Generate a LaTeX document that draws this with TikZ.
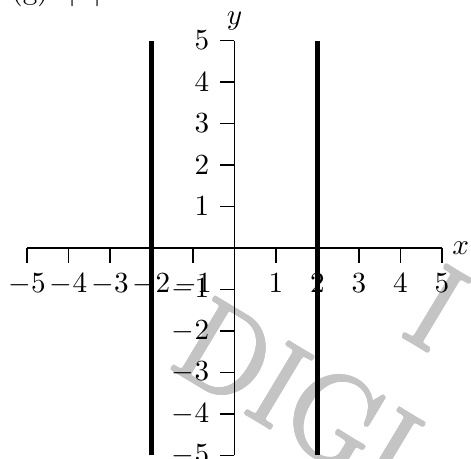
\documentclass[tikz,border=0pt]{standalone}
\usepackage{tikz}
\usetikzlibrary{arrows.meta, positioning}
\usepackage{amsmath}
\usepackage[copies]{contour}
\contourlength{0.5pt}
\contournumber{12}
\definecolor{axisblack}{RGB}{0,0,0}
\definecolor{markgray}{RGB}{196,196,196}

\tikzset{
  axline/.style={axisblack, line width=0.5pt},
  axtick/.style={axisblack, line width=0.5pt},
  ticklabel/.style={font=\normalsize, text=axisblack},
  graphline/.style={axisblack, line width=2pt},
  watermark/.style={font=\fontsize{42}{50}\selectfont, text=markgray, inner sep=0pt, rotate=-31, anchor=base west}
}
\newcommand{\markword}[1]{\contour{markgray}{#1}}

\begin{document}
\begin{tikzpicture}[x=0.5cm, y=0.5cm]
\useasboundingbox (-5.651,-5.084) rectangle (5.699,5.976);

% === watermark (behind the plot) ===
\node[watermark] (markA) at (-1.64,-2.84) {\markword{DIGI}};
\node[watermark] (markB) at (3.94,-2.07) {\markword{I}};

% === part label (cut by the top edge) ===
\node[inner sep=0pt, anchor=base west] (partlabel) at (-5.39,5.99) {(g)\hspace{6.9pt}$|x|=2$};

% === axes ===
\draw[axline] (-5,0) -- (5,0);
\draw[axline] (0,-5) -- (0,5);
\foreach \t in {-5,...,5} {
    \draw[axtick] (\t,0) -- (\t,-0.36);
    \draw[axtick] (0,\t) -- (-0.36,\t);
}

% === tick labels ===
\foreach \t in {-5,...,-1,1,2,...,5} {
    \node[ticklabel, below] (xl\t) at (\t,-0.36) {$\t$};
    \node[ticklabel, left] (yl\t) at (-0.36,\t) {$\t$};
}
\node[ticklabel, right] (xname) at (5,0) {$x$};
\node[ticklabel, above] (yname) at (0,5) {$y$};

% === |x| = 2 ===
\draw[graphline] (-2,-5) -- (-2,5);
\draw[graphline] (2,-5) -- (2,5);

\end{tikzpicture}
\end{document}
